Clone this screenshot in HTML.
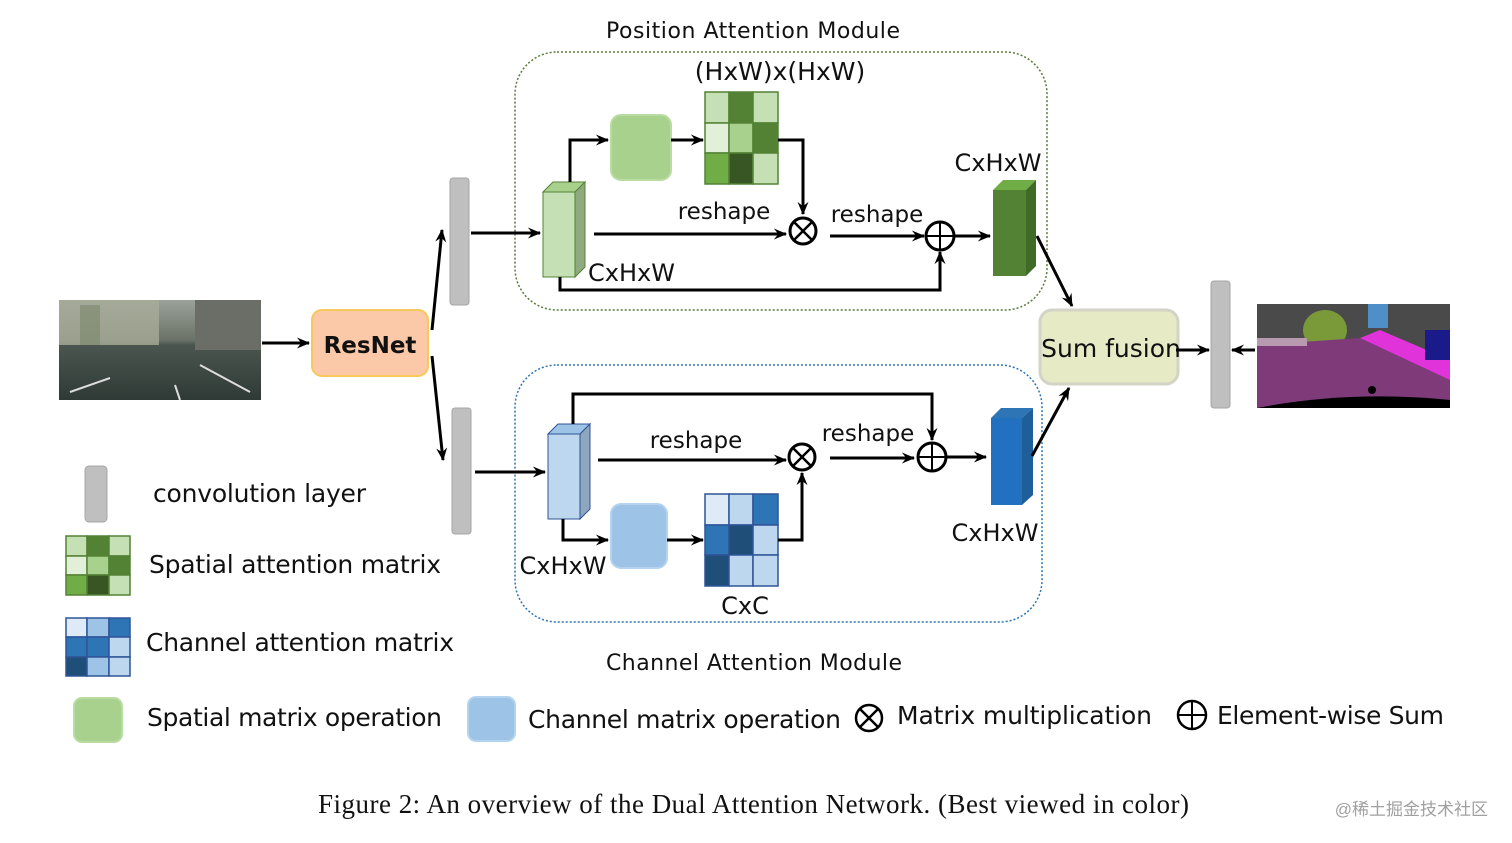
<!DOCTYPE html>
<html><head><meta charset="utf-8"><style>
body{margin:0;background:#fff;}
svg{display:block;}
text{font-family:"DejaVu Sans","Liberation Sans",sans-serif;fill:#111;}
</style></head><body>
<svg width="1512" height="843" viewBox="0 0 1512 843" xmlns="http://www.w3.org/2000/svg">
<defs>
<marker id="a" viewBox="0 0 12 10" refX="11" refY="5" markerWidth="14" markerHeight="11" markerUnits="userSpaceOnUse" orient="auto">
<path d="M0,0 L12,5 L0,10 L4,5 z" fill="#000"/></marker>
<linearGradient id="road" x1="0" y1="0" x2="0" y2="1">
<stop offset="0" stop-color="#9aa29a"/><stop offset="0.4" stop-color="#6b7368"/><stop offset="0.45" stop-color="#4b5550"/><stop offset="1" stop-color="#2f3a36"/></linearGradient>
</defs>

<text x="753" y="38" font-size="22" text-anchor="middle" textLength="294">Position Attention Module</text>
<text x="754" y="670" font-size="22" text-anchor="middle" textLength="296">Channel Attention Module</text>

<rect x="515" y="52" width="532" height="258" rx="42" fill="none" stroke="#5a7a3a" stroke-width="1.5" stroke-dasharray="2,2"/>
<rect x="515" y="365" width="527" height="257" rx="42" fill="none" stroke="#2e75b6" stroke-width="1.5" stroke-dasharray="2,2"/>

<rect x="59" y="300" width="202" height="100" fill="url(#road)"/>
<rect x="59" y="300" width="100" height="45" fill="#a7ab98" opacity="0.8"/>
<rect x="80" y="305" width="20" height="40" fill="#7f8a70" opacity="0.7"/>
<rect x="195" y="300" width="66" height="50" fill="#6a6e66"/>
<path d="M70,392 L110,378 M175,385 L180,400 M200,365 L250,392" stroke="#ddd" stroke-width="2"/>

<line x1="262" y1="343" x2="309" y2="343" stroke="#000" stroke-width="3" marker-end="url(#a)"/>
<rect x="312" y="310" width="116" height="66" rx="10" fill="#fcc9a8" stroke="#f7c85a" stroke-width="2"/>
<text x="370" y="353" font-size="23" font-weight="bold" text-anchor="middle">ResNet</text>
<line x1="432" y1="330" x2="442" y2="230" stroke="#000" stroke-width="3" marker-end="url(#a)"/>
<line x1="432" y1="356" x2="443" y2="460" stroke="#000" stroke-width="3" marker-end="url(#a)"/>

<rect x="450" y="178" width="19" height="127" rx="3" fill="#bfbfbf" stroke="#a6a6a6"/>
<rect x="452" y="408" width="19" height="126" rx="3" fill="#bfbfbf" stroke="#a6a6a6"/>
<rect x="1211" y="281" width="19" height="127" rx="3" fill="#bfbfbf" stroke="#a6a6a6"/>

<line x1="471" y1="233" x2="540" y2="233" stroke="#000" stroke-width="3" marker-end="url(#a)"/>
<polygon points="543,192 553,182 585,182 575,192" fill="#a9d18e" stroke="#548235"/>
<polygon points="575,192 585,182 585,267 575,277" fill="#8faa80" stroke="#548235"/>
<rect x="543" y="192" width="32" height="85" fill="#c5e0b4" stroke="#548235"/>
<polyline points="570,182 570,140 608,140" fill="none" stroke="#000" stroke-width="3" marker-end="url(#a)"/>
<rect x="611" y="115" width="60" height="65" rx="10" fill="#a9d18e" stroke="#b9dca2" stroke-width="2"/>
<line x1="671" y1="140" x2="703" y2="140" stroke="#000" stroke-width="3" marker-end="url(#a)"/>
<g stroke="#548235" stroke-width="1.5">
<rect x="705" y="92" width="24" height="31" fill="#c5e0b4"/><rect x="729" y="92" width="24" height="31" fill="#548235"/><rect x="753" y="92" width="25" height="31" fill="#c5e0b4"/>
<rect x="705" y="123" width="24" height="30" fill="#e2f0d9"/><rect x="729" y="123" width="24" height="30" fill="#a9d18e"/><rect x="753" y="123" width="25" height="30" fill="#548235"/>
<rect x="705" y="153" width="24" height="31" fill="#70ad47"/><rect x="729" y="153" width="24" height="31" fill="#375623"/><rect x="753" y="153" width="25" height="31" fill="#c5e0b4"/>
</g>
<text x="780" y="80" font-size="25" text-anchor="middle">(HxW)x(HxW)</text>
<polyline points="778,140 803,140 803,214" fill="none" stroke="#000" stroke-width="3" marker-end="url(#a)"/>
<line x1="594" y1="234" x2="786" y2="234" stroke="#000" stroke-width="3" marker-end="url(#a)"/>
<text x="724" y="219" font-size="23" text-anchor="middle">reshape</text>
<circle cx="803" cy="231" r="13" fill="#fff" stroke="#000" stroke-width="3"/>
<path d="M794,222 L812,240 M812,222 L794,240" stroke="#000" stroke-width="2.5"/>
<line x1="830" y1="236" x2="924" y2="236" stroke="#000" stroke-width="3" marker-end="url(#a)"/>
<text x="877" y="222" font-size="23" text-anchor="middle">reshape</text>
<circle cx="940" cy="236" r="14" fill="#fff" stroke="#000" stroke-width="3"/>
<path d="M926,236 L954,236 M940,222 L940,250" stroke="#000" stroke-width="2"/>
<line x1="955" y1="236" x2="990" y2="236" stroke="#000" stroke-width="3" marker-end="url(#a)"/>
<polyline points="560,277 560,290 940,290 940,252" fill="none" stroke="#000" stroke-width="3" marker-end="url(#a)"/>
<text x="588" y="281" font-size="24">CxHxW</text>
<polygon points="993,190 1003,180 1036,180 1026,190" fill="#70ad47"/>
<polygon points="1026,190 1036,180 1036,266 1026,276" fill="#3f6b27"/>
<rect x="993" y="190" width="33" height="86" fill="#548235"/>
<text x="998" y="171" font-size="24" text-anchor="middle">CxHxW</text>

<line x1="475" y1="472" x2="545" y2="472" stroke="#000" stroke-width="3" marker-end="url(#a)"/>
<polygon points="548,434 558,424 590,424 580,434" fill="#9dc3e6" stroke="#2f5597"/>
<polygon points="580,434 590,424 590,509 580,519" fill="#8ea6be" stroke="#2f5597"/>
<rect x="548" y="434" width="32" height="85" fill="#bdd7ee" stroke="#2f5597"/>
<polyline points="573,424 573,394 932,394 932,440" fill="none" stroke="#000" stroke-width="3" marker-end="url(#a)"/>
<line x1="598" y1="460" x2="786" y2="460" stroke="#000" stroke-width="3" marker-end="url(#a)"/>
<text x="696" y="448" font-size="23" text-anchor="middle">reshape</text>
<circle cx="802" cy="457" r="13" fill="#fff" stroke="#000" stroke-width="3"/>
<path d="M793,448 L811,466 M811,448 L793,466" stroke="#000" stroke-width="2.5"/>
<line x1="830" y1="458" x2="914" y2="458" stroke="#000" stroke-width="3" marker-end="url(#a)"/>
<text x="868" y="441" font-size="23" text-anchor="middle">reshape</text>
<circle cx="932" cy="457" r="14" fill="#fff" stroke="#000" stroke-width="3"/>
<path d="M918,457 L946,457 M932,443 L932,471" stroke="#000" stroke-width="2"/>
<line x1="947" y1="457" x2="986" y2="457" stroke="#000" stroke-width="3" marker-end="url(#a)"/>
<polygon points="991,418 1001,408 1033,408 1022,418" fill="#2e75b6"/>
<polygon points="1022,418 1033,408 1033,495 1022,505" fill="#1f5f99"/>
<rect x="991" y="418" width="31" height="87" fill="#2271c0"/>
<text x="995" y="541" font-size="24" text-anchor="middle">CxHxW</text>
<polyline points="563,519 563,540 608,540" fill="none" stroke="#000" stroke-width="3" marker-end="url(#a)"/>
<text x="563" y="574" font-size="24" text-anchor="middle">CxHxW</text>
<rect x="611" y="504" width="56" height="64" rx="10" fill="#9dc3e6" stroke="#b4d3ee" stroke-width="2"/>
<line x1="667" y1="540" x2="703" y2="540" stroke="#000" stroke-width="3" marker-end="url(#a)"/>
<g stroke="#2f5597" stroke-width="1.5">
<rect x="705" y="494" width="24" height="31" fill="#deebf7"/><rect x="729" y="494" width="24" height="31" fill="#bdd7ee"/><rect x="753" y="494" width="25" height="31" fill="#2e75b6"/>
<rect x="705" y="525" width="24" height="30" fill="#2e75b6"/><rect x="729" y="525" width="24" height="30" fill="#1f4e79"/><rect x="753" y="525" width="25" height="30" fill="#bdd7ee"/>
<rect x="705" y="555" width="24" height="31" fill="#1f4e79"/><rect x="729" y="555" width="24" height="31" fill="#bdd7ee"/><rect x="753" y="555" width="25" height="31" fill="#bdd7ee"/>
</g>
<polyline points="778,540 802,540 802,473" fill="none" stroke="#000" stroke-width="3" marker-end="url(#a)"/>
<text x="745" y="614" font-size="24" text-anchor="middle">CxC</text>

<line x1="1037" y1="236" x2="1072" y2="306" stroke="#000" stroke-width="3" marker-end="url(#a)"/>
<line x1="1032" y1="456" x2="1069" y2="388" stroke="#000" stroke-width="3" marker-end="url(#a)"/>
<rect x="1040" y="310" width="138" height="74" rx="12" fill="#e6ebc6" stroke="#d3d3c6" stroke-width="3"/>
<text x="1111" y="357" font-size="25" text-anchor="middle">Sum fusion</text>
<line x1="1176" y1="350" x2="1209" y2="350" stroke="#000" stroke-width="3" marker-end="url(#a)"/>
<line x1="1255" y1="350" x2="1232" y2="350" stroke="#000" stroke-width="3" marker-end="url(#a)"/>

<rect x="1257" y="304" width="193" height="104" fill="#4a4a4a"/>
<ellipse cx="1325" cy="330" rx="22" ry="20" fill="#7a9a3a"/>
<rect x="1368" y="304" width="20" height="24" fill="#4e8fc8"/>
<polygon points="1257,345 1360,338 1450,380 1450,408 1257,408" fill="#7f3a7a"/>
<polygon points="1360,338 1450,380 1450,360 1380,330" fill="#e033d9"/>
<rect x="1257" y="338" width="50" height="8" fill="#b89ab0"/>
<path d="M1257,408 Q1350,390 1450,400 L1450,408 Z" fill="#000"/>
<circle cx="1372" cy="390" r="4" fill="#000"/>
<rect x="1425" y="330" width="25" height="30" fill="#1a1a8a"/>

<rect x="85" y="466" width="22" height="56" rx="4" fill="#bfbfbf" stroke="#a6a6a6"/>
<text x="153" y="502" font-size="25" textLength="213">convolution layer</text>
<g stroke="#548235" stroke-width="1.5">
<rect x="66" y="536" width="21" height="20" fill="#c5e0b4"/><rect x="87" y="536" width="22" height="20" fill="#548235"/><rect x="109" y="536" width="21" height="20" fill="#c5e0b4"/>
<rect x="66" y="556" width="21" height="19" fill="#e2f0d9"/><rect x="87" y="556" width="22" height="19" fill="#a9d18e"/><rect x="109" y="556" width="21" height="19" fill="#548235"/>
<rect x="66" y="575" width="21" height="20" fill="#70ad47"/><rect x="87" y="575" width="22" height="20" fill="#375623"/><rect x="109" y="575" width="21" height="20" fill="#c5e0b4"/>
</g>
<text x="149" y="573" font-size="25" textLength="292">Spatial attention matrix</text>
<g stroke="#2f5597" stroke-width="1.5">
<rect x="66" y="618" width="21" height="19" fill="#deebf7"/><rect x="87" y="618" width="22" height="19" fill="#9dc3e6"/><rect x="109" y="618" width="21" height="19" fill="#2e75b6"/>
<rect x="66" y="637" width="21" height="20" fill="#2e75b6"/><rect x="87" y="637" width="22" height="20" fill="#2e75b6"/><rect x="109" y="637" width="21" height="20" fill="#bdd7ee"/>
<rect x="66" y="657" width="21" height="19" fill="#1f4e79"/><rect x="87" y="657" width="22" height="19" fill="#9dc3e6"/><rect x="109" y="657" width="21" height="19" fill="#bdd7ee"/>
</g>
<text x="146" y="651" font-size="25" textLength="308">Channel attention matrix</text>
<rect x="74" y="698" width="48" height="44" rx="8" fill="#a9d18e" stroke="#b9dca2" stroke-width="2"/>
<text x="147" y="726" font-size="25" textLength="295">Spatial matrix operation</text>
<rect x="468" y="697" width="47" height="44" rx="8" fill="#9dc3e6" stroke="#b4d3ee" stroke-width="2"/>
<text x="528" y="728" font-size="25" textLength="313">Channel matrix operation</text>
<circle cx="869" cy="718" r="13" fill="#fff" stroke="#000" stroke-width="2.5"/>
<path d="M860,709 L878,727 M878,709 L860,727" stroke="#000" stroke-width="2.5"/>
<text x="897" y="724" font-size="25" textLength="255">Matrix multiplication</text>
<circle cx="1192" cy="715" r="14" fill="#fff" stroke="#000" stroke-width="2.5"/>
<path d="M1178,715 L1206,715 M1192,701 L1192,729" stroke="#000" stroke-width="2"/>
<text x="1217" y="724" font-size="25" textLength="227">Element-wise Sum</text>

<text x="318" y="813" font-size="27" textLength="871" style="font-family:'Liberation Serif',serif">Figure 2: An overview of the Dual Attention Network. (Best viewed in color)</text>
<text x="1488" y="815" font-size="17" text-anchor="end" style="font-family:'Liberation Sans','Noto Sans CJK SC',sans-serif;fill:#a0a0a0">@稀土掘金技术社区</text>
</svg>
</body></html>
